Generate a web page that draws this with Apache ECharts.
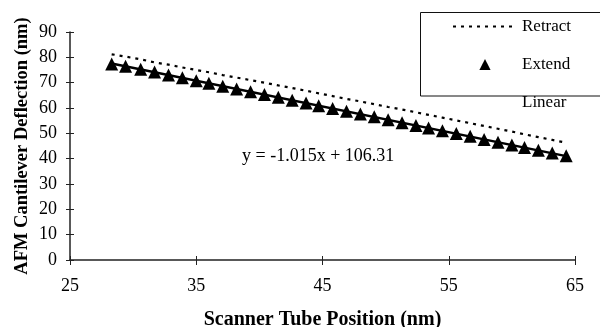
<!DOCTYPE html>
<html>
<head>
<meta charset="utf-8">
<script src="https://cdn.jsdelivr.net/npm/echarts@6/dist/echarts.min.js"></script>
<style>
  html, body { margin: 0; padding: 0; background: #fff; }
  #chart { width: 600px; height: 327px; }
</style>
</head>
<body>
<div id="chart"></div>
<script>
// Scanner tube position of each sample (nm)
const positions = [28.3, 29.4, 30.6, 31.7, 32.8, 33.9, 35.0, 36.0, 37.1, 38.2, 39.3, 40.4,
  41.5, 42.6, 43.7, 44.7, 45.8, 46.9, 48.0, 49.1, 50.2, 51.3, 52.4, 53.4, 54.5, 55.6,
  56.7, 57.8, 58.9, 60.0, 61.0, 62.1, 63.2, 64.3];

// Deflection (nm)
const retract = [81.2, 80.3, 79.2, 78.0, 77.1, 76.0, 75.0, 74.1, 73.0, 72.0, 71.0, 70.0,
  68.9, 67.9, 66.8, 65.8, 64.7, 63.6, 62.6, 61.5, 60.4, 59.4, 58.3, 57.3, 56.2, 55.1,
  54.0, 52.9, 51.8, 50.7, 49.6, 48.5, 47.4, 46.3];
const extend = [77.4, 76.5, 75.3, 74.2, 73.0, 71.9, 70.8, 69.8, 68.6, 67.5, 66.4, 65.3,
  64.2, 63.1, 62.0, 60.9, 59.8, 58.7, 57.6, 56.5, 55.4, 54.2, 53.1, 52.1, 51.0, 49.9,
  48.8, 47.6, 46.5, 45.4, 44.4, 43.3, 42.2, 41.2];

// Linear trendline end points
const linearX = [28.3, 64.3];
const linearY = [77.6, 41.0];

const xTicks = { min: 25, max: 65, interval: 10 };
const yTicks = { min: 0, max: 90, interval: 10 };

const serif = "'Liberation Serif', 'DejaVu Serif', serif";
const ink = "#000";

const chart = echarts.init(document.getElementById("chart"));

const baseX = {
  type: "value",
  min: xTicks.min,
  max: xTicks.max,
  interval: xTicks.interval,
  position: "bottom",
  splitLine: { show: false },
};
const baseY = {
  type: "value",
  min: yTicks.min,
  max: yTicks.max,
  interval: yTicks.interval,
  position: "left",
  splitLine: { show: false },
};

const option = {
  backgroundColor: "#fff",
  animation: false,
  grid: { left: 70, right: 25, top: 32, bottom: 67, outerBoundsMode: "none", containLabel: false },
  xAxis: [
    {
      ...baseX,
      name: "Scanner Tube Position (nm)",
      nameLocation: "middle",
      nameGap: 50,
      nameMoveOverlap: false,
      nameTextStyle: { fontFamily: serif, fontSize: 20, fontWeight: "bold", color: ink },
      axisLine: { lineStyle: { color: "#222", width: 1.5 } },
      axisTick: { length: 5, lineStyle: { color: "#222", width: 1 } },
      axisLabel: { margin: 17, fontFamily: serif, fontSize: 18, color: ink },
    },
    {
      // inner half of the cross ticks
      ...baseX,
      axisLine: { show: false },
      axisTick: { inside: true, length: 4, lineStyle: { color: "#222", width: 1 } },
      axisLabel: { show: false },
    },
  ],
  yAxis: [
    {
      ...baseY,
      name: "AFM Cantilever Deflection (nm)",
      nameLocation: "middle",
      nameGap: 38,
      nameMoveOverlap: false,
      nameTextStyle: { fontFamily: serif, fontSize: 18.5, fontWeight: "bold", color: ink },
      axisLine: { show: true, lineStyle: { color: "#222", width: 1.5 } },
      axisTick: { show: true, length: 4, lineStyle: { color: "#222", width: 1 } },
      axisLabel: { margin: 13, fontFamily: serif, fontSize: 18, color: ink },
    },
    {
      ...baseY,
      axisLine: { show: false },
      axisTick: { show: true, inside: true, length: 4, lineStyle: { color: "#222", width: 1 } },
      axisLabel: { show: false },
    },
  ],
  legend: {
    orient: "vertical",
    left: 447,
    top: 13,
    itemWidth: 64,
    itemHeight: 14,
    itemGap: 21,
    textStyle: { fontFamily: serif, fontSize: 17, color: ink },
    data: [
      { name: "Retract", itemStyle: { opacity: 0 } },
      { name: "Extend" },
      { name: "Linear", itemStyle: { opacity: 0 }, lineStyle: { opacity: 0 } },
    ],
  },
  graphic: [
    {
      type: "rect",
      shape: { x: 420.5, y: 12.5, width: 200, height: 83.5 },
      style: { fill: null, stroke: "#111", lineWidth: 1 },
      z: 10,
    },
    {
      type: "text",
      x: 242,
      y: 156,
      style: {
        text: "y = -1.015x + 106.31",
        font: "18px " + serif,
        fill: ink,
        verticalAlign: "middle",
      },
    },
  ],
  series: [
    {
      name: "Linear",
      type: "line",
      data: linearX.map((x, i) => [x, linearY[i]]),
      symbol: "none",
      lineStyle: { color: ink, width: 2.5 },
      itemStyle: { color: ink },
      z: 2,
    },
    {
      name: "Extend",
      type: "line",
      data: positions.map((x, i) => [x, extend[i]]),
      symbol: "triangle",
      symbolSize: 13,
      lineStyle: { opacity: 0 },
      itemStyle: { color: ink },
      z: 3,
    },
    {
      name: "Retract",
      type: "line",
      data: positions.map((x, i) => [x, retract[i]]),
      symbol: "none",
      lineStyle: { color: ink, width: 2.2, type: [3, 5] },
      itemStyle: { color: ink },
      z: 4,
    },
  ],
};

chart.setOption(option);
</script>
</body>
</html>
